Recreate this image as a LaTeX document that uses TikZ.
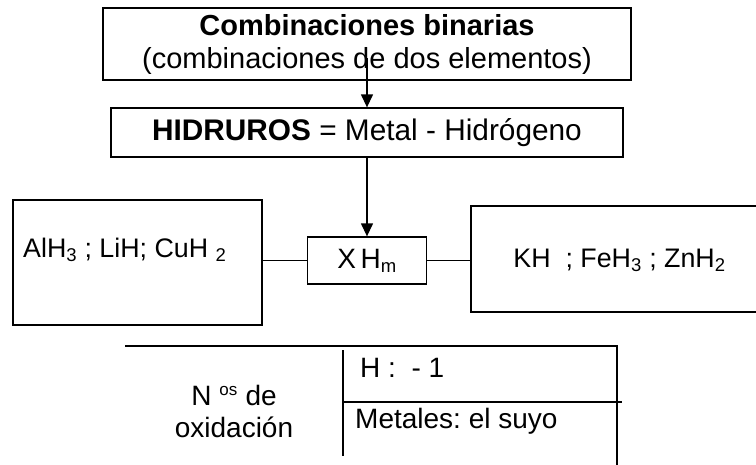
\documentclass[tikz,border=0pt]{standalone}
\usepackage{fontspec}
\setmainfont{Liberation Sans}
\tikzset{node distance=2cm, auto}
\usetikzlibrary{arrows.meta}
\usetikzlibrary{positioning}
\newcommand{\indice}[1]{\textsubscript{\fontsize{18.5}{18.5}\selectfont #1}}
\newcommand{\exponente}[1]{\textsuperscript{\fontsize{17}{17}\selectfont #1}}
\frenchspacing

\begin{document}
\begin{tikzpicture}[x=1pt, y=-1pt, font=\fontsize{28}{33}\selectfont]
\tikzset{
  caja/.style={draw, line width=1.3pt, inner sep=0pt},
  texto/.style={inner sep=0pt},
  formula/.style={inner sep=0pt, font=\fontsize{26.8}{30}\selectfont},
  flecha/.style={line width=1.3pt, -{Triangle[length=13pt, width=12pt]}},
  linea/.style={line width=1.3pt}
}
\useasboundingbox (0,0) rectangle (756,464);

\coordinate (A) at (367,58);
\coordinate (T1) at (125,346);
\coordinate (T2) at (617,346);
\coordinate (T3) at (617,470);
\coordinate (M1) at (343,350);
\coordinate (M2) at (343,456);
\coordinate (H1) at (343,402);
\coordinate (H2) at (622,402);

\node[caja, minimum width=528pt, minimum height=72pt, align=center,
  font=\fontsize{29}{33}\selectfont] (comb) at (367,44)
  {\textbf{Combinaciones binarias}\\(combinaciones de dos elementos)};
\node[caja, minimum width=512pt, minimum height=49pt,
  font=\fontsize{29.8}{33}\selectfont] (hidr) at (367,132.5)
  {\textbf{HIDRUROS} = Metal - Hidrógeno};
\node[caja, minimum width=119pt, minimum height=47pt] (xhm) at (367,260.5)
  {X\,H\indice{m}};
\node[caja, minimum width=249pt, minimum height=125pt] (izq) at (137.5,262.5) {};
\node[caja, minimum width=289pt, minimum height=106pt] (der) at (615.5,259) {};

\node[formula, anchor=base west] (izqt) at (23,257) {AlH\indice{3} ; LiH; CuH \indice{2}};
\node[formula, anchor=base] (dert) at (619.5,267) {KH \ ; FeH\indice{3} ; ZnH\indice{2}};

\draw[flecha] (A) -- (hidr.north);
\draw[flecha] (hidr.south) -- (xhm.north);
\draw[linea] (xhm.west) -- (xhm.west -| izq.east);
\draw[linea] (xhm.east) -- (xhm.east -| der.west);

\draw[linea] (T1) -- (T2) -- (T3);
\draw[linea] (M1) -- (M2);
\draw[linea] (H1) -- (H2);

\node[texto, anchor=base] (nos) at (234,405) {N \exponente{os} de};
\node[texto, anchor=base] (oxi) at (234,437) {oxidación};
\node[texto, anchor=base west] (hid) at (360,377) {H :\ \ - 1};
\node[texto, anchor=base west] (met) at (355,428) {Metales: el suyo};
\end{tikzpicture}
\end{document}
